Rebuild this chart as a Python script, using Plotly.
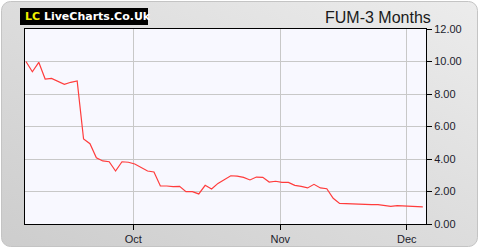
import base64
import plotly.graph_objects as go

# ---- data ----
values = [10.0, 9.37, 9.95, 8.92, 8.96, 8.8, 8.6, 8.72, 8.8, 5.23,
          4.94, 4.08, 3.88, 3.83, 3.26, 3.83, 3.8, 3.69, 3.49, 3.26,
          3.2, 2.34, 2.34, 2.3, 2.32, 1.99, 1.99, 1.85, 2.38, 2.15,
          2.5, 2.71, 2.97, 2.95, 2.87, 2.71, 2.89, 2.87, 2.58, 2.63,
          2.56, 2.56, 2.38, 2.32, 2.22, 2.44, 2.22, 2.17, 1.58, 1.27,
          1.25, 1.21, 1.21, 1.2, 1.19, 1.19, 1.15, 1.09, 1.13, 1.11,
          1.09, 1.05, 1.05]
day_index = list(range(len(values)))
month_tick_pos = [16.77, 39.74, 59.49]
month_tick_text = ["Oct", "Nov", "Dec"]
y_ticks = [0, 2, 4, 6, 8, 10, 12]
title_text = "FUM-3 Months"

# ---- layout geometry (pixels) ----
W, H = 480, 250
L, R, T, B = 25, 54, 29, 26
pw, ph = W - L - R, H - T - B

def px_x(p):
    return (p - L) / pw

def px_y(p):
    return (H - B - p) / ph

svg = f"""<svg xmlns='http://www.w3.org/2000/svg' width='{W}' height='{H}'>
<defs><linearGradient id='g' x1='1' y1='0' x2='0' y2='1'>
<stop offset='0' stop-color='#ececec'/><stop offset='1' stop-color='#cdcdcd'/>
</linearGradient></defs>
<rect x='1.5' y='1.5' width='{W-4}' height='{H-5}' rx='9' ry='9' fill='url(#g)' stroke='#c4c4c4' stroke-width='1'/>
<rect x='{L}' y='{T}' width='{pw}' height='{ph}' fill='#f8f8ff'/>
</svg>"""
svg_uri = "data:image/svg+xml;base64," + base64.b64encode(svg.encode()).decode()

fig = go.Figure()
fig.add_trace(go.Scatter(x=day_index, y=values, mode="lines",
                         line=dict(color="#ff3c3c", width=1.2),
                         hoverinfo="skip", showlegend=False))

fig.update_layout(
    width=W, height=H, autosize=False,
    margin=dict(l=L, r=R, t=T, b=B, pad=0, autoexpand=False),
    paper_bgcolor="white",
    plot_bgcolor="rgba(0,0,0,0)",
    font=dict(family="Liberation Sans, Arial, sans-serif", size=11, color="#1c1c2c"),
    images=[dict(source=svg_uri, xref="paper", yref="paper",
                 x=px_x(0), y=px_y(0), sizex=W / pw, sizey=H / ph,
                 xanchor="left", yanchor="top", sizing="stretch", layer="below")],
    xaxis=dict(range=[-0.15, 62.5], tickvals=month_tick_pos, ticktext=month_tick_text,
               showgrid=True, gridcolor="#c8c8c8", gridwidth=1,
               showline=True, linecolor="black", linewidth=1, mirror=True,
               ticks="outside", ticklen=5, tickcolor="black", zeroline=False,
               automargin=False, fixedrange=True),
    yaxis=dict(range=[0, 12], tickvals=y_ticks, tickformat=".2f", side="right",
               showgrid=True, gridcolor="#c8c8c8", gridwidth=1,
               showline=True, linecolor="black", linewidth=1, mirror=True,
               ticks="outside", ticklen=5, tickcolor="black", zeroline=False,
               automargin=False, fixedrange=True),
    shapes=[dict(type="rect", xref="paper", yref="paper",
                 x0=px_x(20), x1=px_x(148), y0=px_y(25), y1=px_y(8),
                 fillcolor="black", line=dict(width=0), layer="above")],
    annotations=[
        dict(text="<b><span style='color:#f0f000'>LC</span> LiveCharts.Co.Uk</b>",
             xref="paper", yref="paper", x=px_x(23), y=px_y(16.5),
             xanchor="left", yanchor="middle", showarrow=False,
             font=dict(family="DejaVu Sans", size=11, color="white")),
        dict(text=title_text, xref="paper", yref="paper", x=px_x(433), y=px_y(17),
             xanchor="right", yanchor="middle", showarrow=False,
             font=dict(family="Liberation Sans, Arial", size=16, color="#1a1a1a")),
    ],
)

fig.write_html("out.html", config={"responsive": False, "displayModeBar": False})
